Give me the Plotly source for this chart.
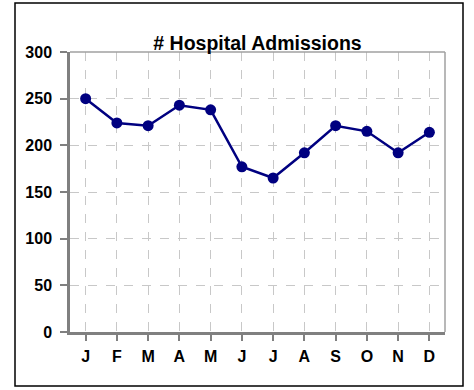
import plotly.graph_objects as go

# Monthly hospital admissions
months = ["J", "F", "M", "A", "M", "J", "J", "A", "S", "O", "N", "D"]
admissions = [250, 224, 221, 243, 238, 177, 165, 192, 221, 215, 192, 214]
y_ticks = [0, 50, 100, 150, 200, 250, 300]

W, H = 474, 390
L, R, T, B = 70, 29, 52, 58
pw, ph = W - L - R, H - T - B

x_idx = list(range(len(months)))

fig = go.Figure()
fig.add_trace(go.Scatter(
    x=x_idx, y=admissions, mode="lines+markers",
    line=dict(color="#000080", width=2.5),
    marker=dict(color="#000080", size=11),
    showlegend=False, hoverinfo="y",
))

font = "Liberation Sans"

# outer frame of the chart area (paper coordinates)
def px_x(p):
    return (p - L) / pw

def px_y(p):
    return (H - B - p) / ph

shapes = [
    dict(type="rect", xref="paper", yref="paper",
         x0=px_x(15), x1=px_x(463), y0=px_y(386), y1=px_y(3),
         line=dict(color="#000000", width=1.5), layer="below"),
    # light top/right border of the plot area
    dict(type="line", xref="paper", yref="paper", x0=0, x1=1, y0=1, y1=1,
         line=dict(color="#a0a0a0", width=1.5)),
    dict(type="line", xref="paper", yref="paper", x0=1, x1=1, y0=0, y1=1,
         line=dict(color="#a0a0a0", width=1.5)),
]

fig.update_layout(
    width=W, height=H,
    margin=dict(l=L, r=R, t=T, b=B, pad=0),
    paper_bgcolor="white", plot_bgcolor="white",
    font=dict(family=font, color="black", size=16, weight="bold"),
    title=dict(text="<b># Hospital Admissions</b>", x=0.5, xref="paper",
               xanchor="center", y=1, yref="paper", yanchor="bottom",
               pad=dict(b=2), font=dict(size=19.5, family=font, color="black")),
    shapes=shapes,
    xaxis=dict(
        range=[-0.5, 11.5], tickmode="array", tickvals=x_idx,
        ticktext=[f"<b>{m}</b>" for m in months],
        tickfont=dict(size=16, family=font, color="black"),
        showgrid=True, gridcolor="#c8c8c8", griddash="dash", gridwidth=1,
        showline=True, linecolor="#808080", linewidth=2.5,
        ticks="outside", ticklen=6, tickwidth=2, tickcolor="#808080",
        ticklabelstandoff=2,
        zeroline=False, fixedrange=True,
    ),
    yaxis=dict(
        range=[0, 300], tickmode="array", tickvals=y_ticks,
        ticktext=[f"<b>{v}</b>" for v in y_ticks],
        tickfont=dict(size=16, family=font, color="black"),
        showgrid=True, gridcolor="#c8c8c8", griddash="dash", gridwidth=1,
        showline=True, linecolor="#808080", linewidth=2.5,
        ticks="outside", ticklen=7, tickwidth=2, tickcolor="#808080",
        ticklabelstandoff=5,
        zeroline=False, fixedrange=True,
    ),
)

fig.write_html("out.html", config={"displayModeBar": False})
